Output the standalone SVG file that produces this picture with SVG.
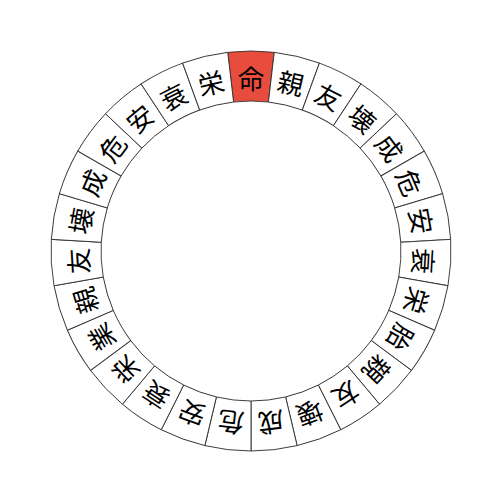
<svg xmlns="http://www.w3.org/2000/svg" xmlns:xlink="http://www.w3.org/1999/xlink" width="502" height="502" viewBox="0 0 502 502">
<style>
.seg{fill:#ffffff;stroke:#333;stroke-width:0.9}
.seg.hl{fill:#e74c3c}
.lbl{font-family:"Noto Sans CJK JP","Noto Sans CJK SC",sans-serif;font-size:26px;fill:#000;text-anchor:middle;dominant-baseline:central}
</style>
<defs>
<path id="cell" d="M 227.782 52.352 A 200 200 0 0 1 274.218 52.352 L 268.414 102.014 A 150 150 0 0 0 233.586 102.014 Z"/>
</defs>
<rect width="502" height="502" fill="#ffffff"/>
<g id="s0" transform="rotate(0 251 251)"><use xlink:href="#cell" class="seg hl"/><text class="lbl" x="251" y="77">命</text></g>
<g id="s1" transform="rotate(13.3333 251 251)"><use xlink:href="#cell" class="seg"/><text class="lbl" x="251" y="77">親</text></g>
<g id="s2" transform="rotate(26.6667 251 251)"><use xlink:href="#cell" class="seg"/><text class="lbl" x="251" y="77">友</text></g>
<g id="s3" transform="rotate(40 251 251)"><use xlink:href="#cell" class="seg"/><text class="lbl" x="251" y="77">壊</text></g>
<g id="s4" transform="rotate(53.3333 251 251)"><use xlink:href="#cell" class="seg"/><text class="lbl" x="251" y="77">成</text></g>
<g id="s5" transform="rotate(66.6667 251 251)"><use xlink:href="#cell" class="seg"/><text class="lbl" x="251" y="77">危</text></g>
<g id="s6" transform="rotate(80 251 251)"><use xlink:href="#cell" class="seg"/><text class="lbl" x="251" y="77">安</text></g>
<g id="s7" transform="rotate(93.3333 251 251)"><use xlink:href="#cell" class="seg"/><text class="lbl" x="251" y="77">衰</text></g>
<g id="s8" transform="rotate(106.6667 251 251)"><use xlink:href="#cell" class="seg"/><text class="lbl" x="251" y="77">栄</text></g>
<g id="s9" transform="rotate(120 251 251)"><use xlink:href="#cell" class="seg"/><text class="lbl" x="251" y="77">胎</text></g>
<g id="s10" transform="rotate(133.3333 251 251)"><use xlink:href="#cell" class="seg"/><text class="lbl" x="251" y="77">親</text></g>
<g id="s11" transform="rotate(146.6667 251 251)"><use xlink:href="#cell" class="seg"/><text class="lbl" x="251" y="77">友</text></g>
<g id="s12" transform="rotate(160 251 251)"><use xlink:href="#cell" class="seg"/><text class="lbl" x="251" y="77">壊</text></g>
<g id="s13" transform="rotate(173.3333 251 251)"><use xlink:href="#cell" class="seg"/><text class="lbl" x="251" y="77">成</text></g>
<g id="s14" transform="rotate(186.6667 251 251)"><use xlink:href="#cell" class="seg"/><text class="lbl" x="251" y="77">危</text></g>
<g id="s15" transform="rotate(200 251 251)"><use xlink:href="#cell" class="seg"/><text class="lbl" x="251" y="77">安</text></g>
<g id="s16" transform="rotate(213.3333 251 251)"><use xlink:href="#cell" class="seg"/><text class="lbl" x="251" y="77">衰</text></g>
<g id="s17" transform="rotate(226.6667 251 251)"><use xlink:href="#cell" class="seg"/><text class="lbl" x="251" y="77">栄</text></g>
<g id="s18" transform="rotate(240 251 251)"><use xlink:href="#cell" class="seg"/><text class="lbl" x="251" y="77">業</text></g>
<g id="s19" transform="rotate(253.3333 251 251)"><use xlink:href="#cell" class="seg"/><text class="lbl" x="251" y="77">親</text></g>
<g id="s20" transform="rotate(266.6667 251 251)"><use xlink:href="#cell" class="seg"/><text class="lbl" x="251" y="77">友</text></g>
<g id="s21" transform="rotate(280 251 251)"><use xlink:href="#cell" class="seg"/><text class="lbl" x="251" y="77">壊</text></g>
<g id="s22" transform="rotate(293.3333 251 251)"><use xlink:href="#cell" class="seg"/><text class="lbl" x="251" y="77">成</text></g>
<g id="s23" transform="rotate(306.6667 251 251)"><use xlink:href="#cell" class="seg"/><text class="lbl" x="251" y="77">危</text></g>
<g id="s24" transform="rotate(320 251 251)"><use xlink:href="#cell" class="seg"/><text class="lbl" x="251" y="77">安</text></g>
<g id="s25" transform="rotate(333.3333 251 251)"><use xlink:href="#cell" class="seg"/><text class="lbl" x="251" y="77">衰</text></g>
<g id="s26" transform="rotate(346.6667 251 251)"><use xlink:href="#cell" class="seg"/><text class="lbl" x="251" y="77">栄</text></g>
</svg>
